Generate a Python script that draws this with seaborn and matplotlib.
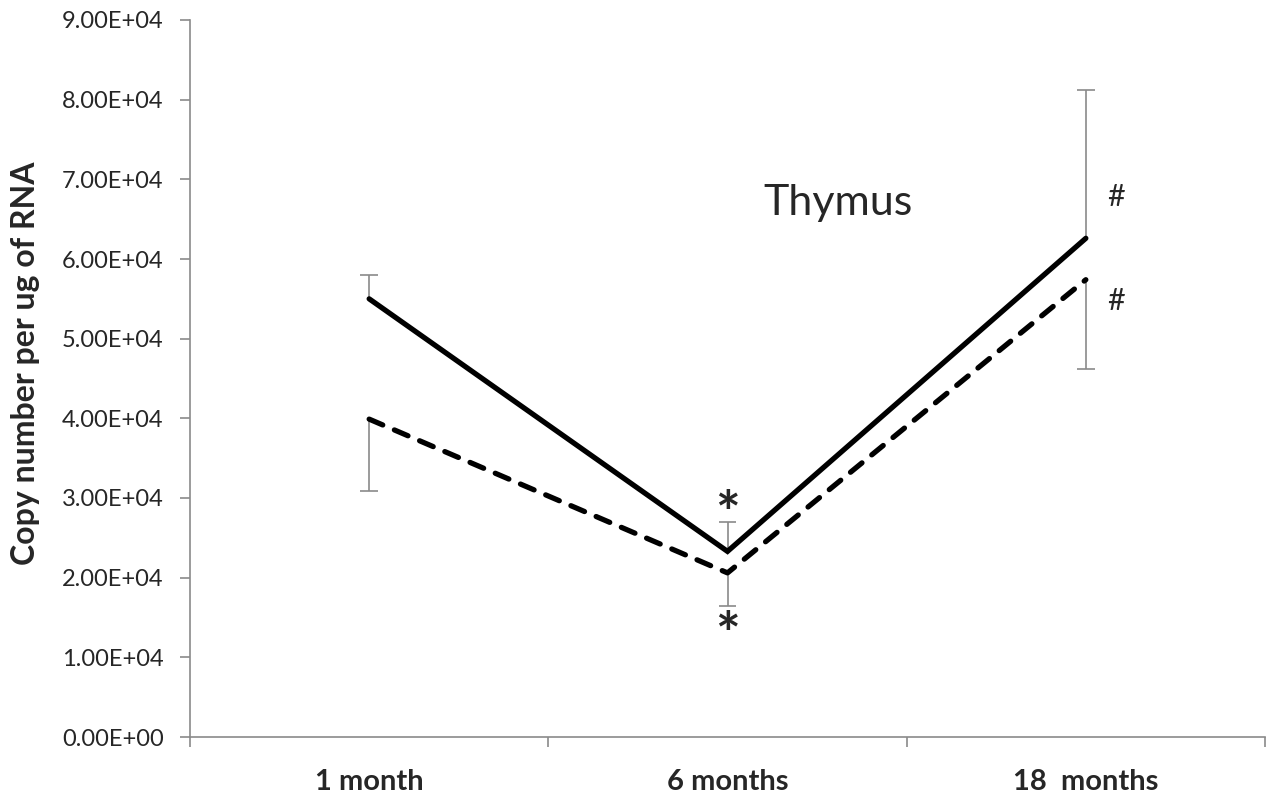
import matplotlib
matplotlib.use("Agg")
import matplotlib.pyplot as plt
import seaborn as sns
import pandas as pd

# Thymus expression over age
ages = ["1 month", "6 months", "18  months"]
solid_vals = [5.50e4, 2.33e4, 6.26e4]
solid_err = [0.30e4, 0.37e4, 1.86e4]      # drawn upward
dashed_vals = [3.99e4, 2.06e4, 5.74e4]
dashed_err = [0.90e4, 0.42e4, 1.12e4]     # drawn downward
yticks = [i * 1e4 for i in range(10)]
ytick_labels = ["%.2fE+04" % (v / 1e4) if v else "0.00E+00" for v in yticks]

sns.set_style("white")
plt.rcParams["font.family"] = ["Lato", "DejaVu Sans"]

fig = plt.figure(figsize=(12.72, 7.98), dpi=100)
ax = fig.add_axes([190 / 1272, 1 - 737 / 798, (1265 - 190) / 1272, (737 - 20) / 798])

df = pd.DataFrame({
    "age": ages * 2,
    "value": solid_vals + dashed_vals,
    "group": ["solid"] * 3 + ["dashed"] * 3,
})

grey = "#8a8a8a"
pos = [0, 1, 2]
cap = 0.025

# one-sided error bars: upward for the solid series, downward for the dashed one
solid_top = [v + e for v, e in zip(solid_vals, solid_err)]
dashed_bot = [v - e for v, e in zip(dashed_vals, dashed_err)]
ax.vlines(pos, solid_vals, solid_top, color=grey, lw=1.2, zorder=1)
ax.hlines(solid_top, [p - cap for p in pos], [p + cap for p in pos], color=grey, lw=1.2, zorder=1)
ax.vlines(pos, dashed_bot, dashed_vals, color=grey, lw=1.2, zorder=1)
ax.hlines(dashed_bot, [p - cap for p in pos], [p + cap for p in pos], color=grey, lw=1.2, zorder=1)

sns.lineplot(data=df[df.group == "solid"], x="age", y="value", ax=ax,
             color="black", lw=3.8, sort=False, zorder=3,
             solid_capstyle="round", solid_joinstyle="miter")
sns.lineplot(data=df[df.group == "dashed"], x="age", y="value", ax=ax,
             color="black", lw=3.8, sort=False, zorder=3,
             linestyle=(0, (2.8, 2.4)), dash_capstyle="round")

ax.set_xlim(-0.5, 2.5)
ax.set_ylim(0, 9e4)
ax.set_yticks(yticks)
ax.set_yticklabels(ytick_labels, fontsize=17)

# category boundaries as ticks, labels centred between them
ax.set_xticks([-0.5, 0.5, 1.5, 2.5])
ax.set_xticklabels([])
ax.set_xticks(pos, minor=True)
ax.set_xticklabels(ages, minor=True, fontsize=21, fontweight="bold")
ax.tick_params(axis="x", which="minor", length=0, pad=23, bottom=True)
ax.tick_params(axis="x", which="major", length=7, color=grey, width=1.2,
               direction="out", bottom=True)
ax.tick_params(axis="y", length=7, color=grey, width=1.2, direction="out",
               pad=12, left=True)

for side in ["top", "right"]:
    ax.spines[side].set_visible(False)
for side in ["left", "bottom"]:
    ax.spines[side].set_color(grey)
    ax.spines[side].set_linewidth(1.2)

ax.set_xlabel("")
ax.set_ylabel("Copy number per ug of RNA", fontsize=23, fontweight="bold")
ax.yaxis.set_label_coords(-0.1395, 0.5216)

ax.text(1.308, 6.70e4, "Thymus", fontsize=31, ha="center", va="center")
ax.text(1.0, 2.77e4, "*", fontsize=42, fontweight="bold", ha="center", va="center")
ax.text(1.0, 1.255e4, "*", fontsize=42, fontweight="bold", ha="center", va="center")
ax.text(2.084, 6.78e4, "#", fontsize=22, ha="center", va="center")
ax.text(2.084, 5.47e4, "#", fontsize=22, ha="center", va="center")

fig.savefig("out.png", dpi=100)
